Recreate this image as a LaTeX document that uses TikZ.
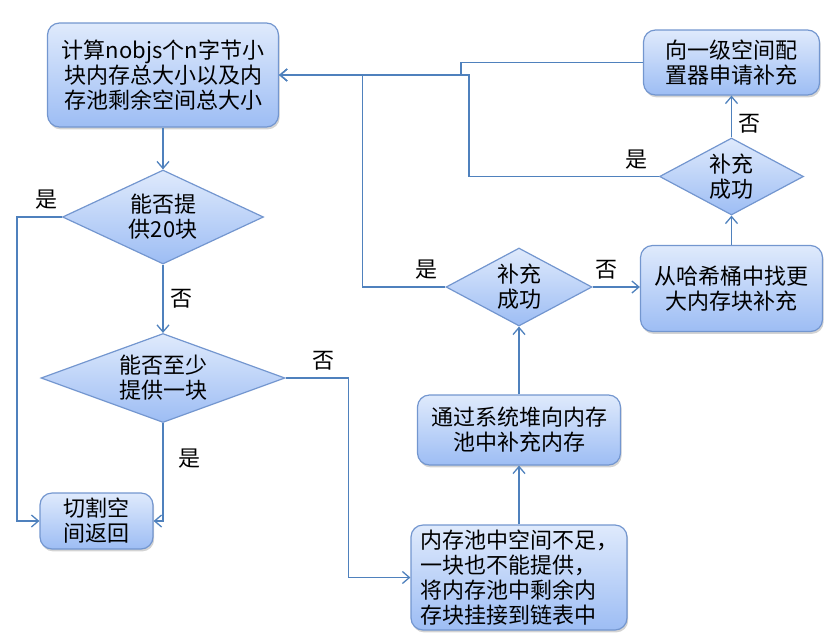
\documentclass[tikz,border=0pt]{standalone}
\usepackage{fontspec}
\setmainfont{Noto Sans CJK SC}
\usetikzlibrary{shapes.geometric,shadows,arrows.meta}
\definecolor{linkblue}{HTML}{4F81BD}
\definecolor{edgeblue}{HTML}{7396CF}
\definecolor{filltop}{HTML}{DFEAFC}
\definecolor{fillbot}{HTML}{9DBDF4}

\begin{document}
\begin{tikzpicture}[x=0.5pt,y=-0.5pt,
    font=\fontsize{11}{12.5}\selectfont,
    box/.style={draw=edgeblue,line width=0.6pt,rounded corners=6pt,top color=filltop,bottom color=fillbot,
      drop shadow={shadow xshift=0.6pt,shadow yshift=-1.2pt,opacity=0.35},align=center,inner sep=0pt},
    test/.style={diamond,draw=edgeblue,line width=0.6pt,top color=filltop,bottom color=fillbot,align=center,inner sep=0pt},
    flow/.style={draw=linkblue,line width=0.65pt,-{Straight Barb[length=3.5pt,width=6pt]}}]
    \useasboundingbox (0,0) rectangle (824,638);

    \node[box,minimum width=115.5pt,minimum height=52pt] at (163,75) (C) {计算nobjs个n字节小\\块内存总大小以及内\\存池剩余空间总大小};
    \node[test,minimum width=100.5pt,minimum height=47pt,aspect=2.1] at (163,217) (Q1) {能否提\\供20块};
    \node[test,minimum width=122pt,minimum height=44.5pt,aspect=2.7] at (163,378) (Q2) {能否至少\\提供一块};
    \node[box,minimum width=56.5pt,minimum height=28pt] at (96.5,521) (R) {切割空\\间返回};
    \node[box,minimum width=108pt,minimum height=52.5pt,align=left] at (519,577.5) (P) {内存池中空间不足，\\一块也不能提供，\\将内存池中剩余内\\存块挂接到链表中};
    \node[box,minimum width=101.5pt,minimum height=35pt] at (519,430) (H) {通过系统堆向内存\\池中补充内存};
    \node[test,minimum width=73pt,minimum height=39pt,aspect=1.9] at (519,287) (Q3) {补充\\成功};
    \node[box,minimum width=91pt,minimum height=43pt] at (731.5,288.5) (B) {从哈希桶中找更\\大内存块补充};
    \node[test,minimum width=72pt,minimum height=38.5pt,aspect=1.9] at (731.5,176.5) (Q4) {补充\\成功};
    \node[box,minimum width=88pt,minimum height=32.5pt] at (731.5,62.5) (U) {向一级空间配\\置器申请补充};

    \draw[flow] (C) -- (Q1);
    \draw[flow] (Q1) -- (Q2) node[midway,right]{否};
    \draw[flow] (Q1.west) -- ++(-45,0) node[pos=0.35,above]{是} |- (R.west);
    \draw[flow] (Q2.south) |- (R.east) node[pos=0.18,right,xshift=4pt]{是};
    \draw[flow] (Q2.east) -- ++(63,0) node[pos=0.6,above]{否} |- (P.west);
    \draw[flow] (P) -- (H);
    \draw[flow] (H) -- (Q3);
    \draw[flow] (Q3.west) -- ++(-83,0) node[pos=0.23,above]{是} |- (C.east);
    \draw[flow] (Q3.east) -- (Q3.east -| B.west) node[pos=0.3,above]{否};
    \draw[flow] (B) -- (Q4);
    \draw[flow] (Q4) -- (U) node[pos=0.33,right]{否};
    \draw[flow] (Q4.west) -- ++(-190,0) node[pos=0.12,above]{是} |- (C.east);
    \draw[flow] (U.west) -- ++(-182,0) |- (C.east);
\end{tikzpicture}
\end{document}
